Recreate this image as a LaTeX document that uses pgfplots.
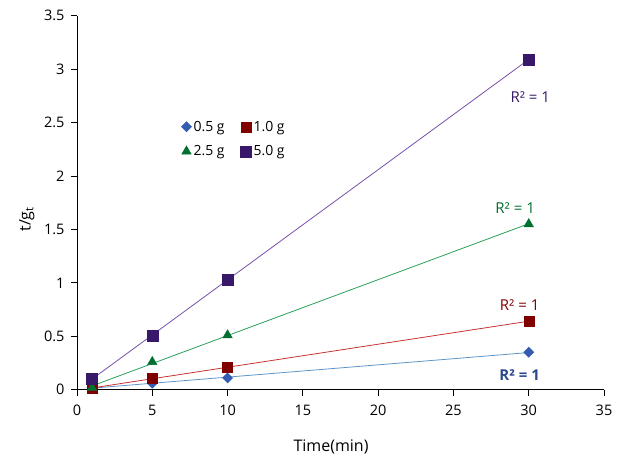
\documentclass[border=0pt]{standalone}
\usepackage{fontspec}
\setmainfont{Open Sans}
\usepackage{pgfplots}
\usepackage{pgfplotstable}
\pgfplotsset{compat=1.18}
\definecolor{cblue}{RGB}{52,92,176}
\definecolor{cred}{RGB}{128,0,0}
\definecolor{cgreen}{RGB}{0,112,48}
\definecolor{cpurple}{RGB}{56,24,104}
\definecolor{lblue}{RGB}{90,150,200}
\definecolor{lred}{RGB}{200,50,50}
\definecolor{lgreen}{RGB}{40,160,90}
\definecolor{lpurple}{RGB}{120,80,170}

\pgfplotstableread{
x y
1 0.02
5 0.06
10 0.11
30 0.35
}\tableA
\pgfplotstableread{
x y
1 0.01
5 0.11
10 0.21
30 0.64
}\tableB
\pgfplotstableread{
x y
1 0.02
5 0.26
10 0.51
30 1.55
}\tableC
\pgfplotstableread{
x y
1 0.10
5 0.51
10 1.03
30 3.09
}\tableD

\begin{document}
\begin{tikzpicture}
\begin{axis}[
    scale only axis,
    width=527pt, height=374pt,
    xmin=0, xmax=35, ymin=0, ymax=3.5,
    xtick={0,5,...,35},
    ytick={0,0.5,...,3.5},
    yticklabels={0,0.5,1,1.5,2,2.5,3,3.5},
    axis x line*=bottom, axis y line*=left,
    tick align=outside,
    major tick length=6pt,
    tick style={black, line width=0.8pt},
    axis line style={black, line width=0.8pt},
    /pgf/number format/assume math mode=true,
    tick label style={font=\fontsize{14.5}{16}\selectfont},
    xticklabel style={yshift=-6pt},
    yticklabel style={xshift=-3pt},
    xlabel={Time(min)}, ylabel={t/g\textsubscript{t}},
    label style={font=\fontsize{16}{18}\selectfont},
    xlabel style={at={(axis description cs:0.482,-0.153)}, anchor=center},
    ylabel style={at={(axis description cs:-0.095,0.456)}, anchor=center},
    legend style={draw=none, fill=none, at={(0.192,0.73)}, anchor=north west,
        font=\fontsize{14}{16}\selectfont, row sep=9pt,
        /tikz/every even column/.append style={column sep=14pt}},
    legend columns=2,
    legend cell align=left,
    legend image post style={xshift=4pt},
]
% trendlines
\addplot[forget plot, lblue, line width=0.8pt] table[x=x, y={create col/linear regression={y=y}}] {\tableA};
\addplot[forget plot, lred, line width=0.8pt] table[x=x, y={create col/linear regression={y=y}}] {\tableB};
\addplot[forget plot, lgreen, line width=0.8pt] table[x=x, y={create col/linear regression={y=y}}] {\tableC};
\addplot[forget plot, lpurple, line width=0.8pt] table[x=x, y={create col/linear regression={y=y}}] {\tableD};
% data
\addplot[only marks, mark=square*, mark size=3.6pt, cblue, mark options={fill=cblue, rotate=45}] table[x=x,y=y] {\tableA};
\addlegendentry{0.5 g}
\addplot[only marks, mark=square*, mark size=5pt, cred, mark options={fill=cred}] table[x=x,y=y] {\tableB};
\addlegendentry{1.0 g}
\addplot[only marks, mark=triangle*, mark size=5.5pt, cgreen, mark options={fill=cgreen}] table[x=x,y=y] {\tableC};
\addlegendentry{2.5 g}
\addplot[only marks, mark=square*, mark size=5.5pt, cpurple, mark options={fill=cpurple}] table[x=x,y=y] {\tableD};
\addlegendentry{5.0 g}
% R^2 labels
\node[cpurple, font=\fontsize{15}{17}\selectfont] at (axis cs:30.1,2.74) {R² = 1};
\node[cgreen, font=\fontsize{15}{17}\selectfont] at (axis cs:29.1,1.70) {R² = 1};
\node[cred, font=\fontsize{15}{17}\selectfont] at (axis cs:29.4,0.79) {R² = 1};
\node[cblue!80!black, font=\bfseries\fontsize{15}{17}\selectfont] at (axis cs:29.4,0.14) {R² = 1};
\end{axis}
\path ([xshift=-77pt,yshift=-73.3pt]current axis.south west) rectangle ([xshift=17pt,yshift=15.7pt]current axis.north east);
\end{tikzpicture}
\end{document}
